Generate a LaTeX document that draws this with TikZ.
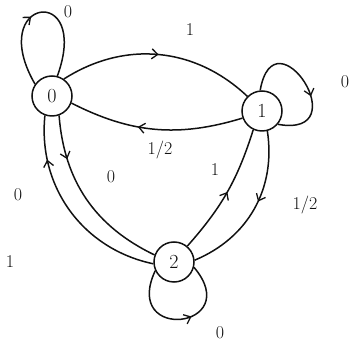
\documentclass[tikz,border=0pt]{standalone}
\usetikzlibrary{arrows.meta,decorations.markings}
\definecolor{PenInk}{HTML}{111111}
\tikzset{
  every node/.style={text=PenInk},
  state/.style={draw=PenInk, circle, line width=1.5pt, minimum size=40pt, inner sep=0pt, font=\fontsize{20}{20}\selectfont},
  edge/.style={draw=PenInk, line width=1.5pt,
    postaction={decorate, decoration={markings, mark=at position #1 with {\arrow{Straight Barb[length=6pt,width=10pt,line width=1.3pt]}}}}},
  edge/.default=0.5,
  lbl/.style={font=\fontsize{18}{18}\selectfont},
}

\begin{document}
\begin{tikzpicture}[x=1pt,y=1pt]
  \useasboundingbox (0,0) rectangle (356,345);
  % states
  \node[state] (s0) at (52,249) {0};
  \node[state] (s1) at (262,234) {1};
  \node[state] (s2) at (174,83) {2};
  % loops
  \draw[edge=0.45] (s0.145) to[out=120, in=70, distance=100pt] (s0.75);
  \draw[edge=0.6] (s1.95) to[out=80, in=-10, distance=82pt] (s1.-40);
  \draw[edge=0.58] (s2.-155) to[out=-115, in=-50, distance=80pt] (s2.-15);
  % transitions
  \draw[edge] (s0.55) to[bend left=38] (s1.135);
  \draw[edge=0.6] (s1.200) to[bend left=22] (s0.-20);
  \draw[edge=0.25] (s0.-70) to[bend right=30] (s2.160);
  \draw[edge=0.78] (s2.185) to[bend left=42] (s0.-110);
  \draw[edge=0.5] (s2.50) to[bend right=12] (s1.-115);
  \draw[edge=0.45] (s1.-75) to[bend left=38] (s2.5);
  % labels
  \node[lbl] (l00) at (68,333) {0};
  \node[lbl] (l01) at (190,315) {1};
  \node[lbl] (l10) at (160,195) {1/2};
  \node[lbl] (l11) at (345,263) {0};
  \node[lbl] (l02) at (111,168) {0};
  \node[lbl] (l20) at (18,150) {0};
  \node[lbl] (l21) at (215,175) {1};
  \node[lbl] (l12) at (305,140) {1/2};
  \node[lbl] (l22) at (220,12) {0};
  \node[lbl] (lx) at (10,83) {1};
\end{tikzpicture}
\end{document}
